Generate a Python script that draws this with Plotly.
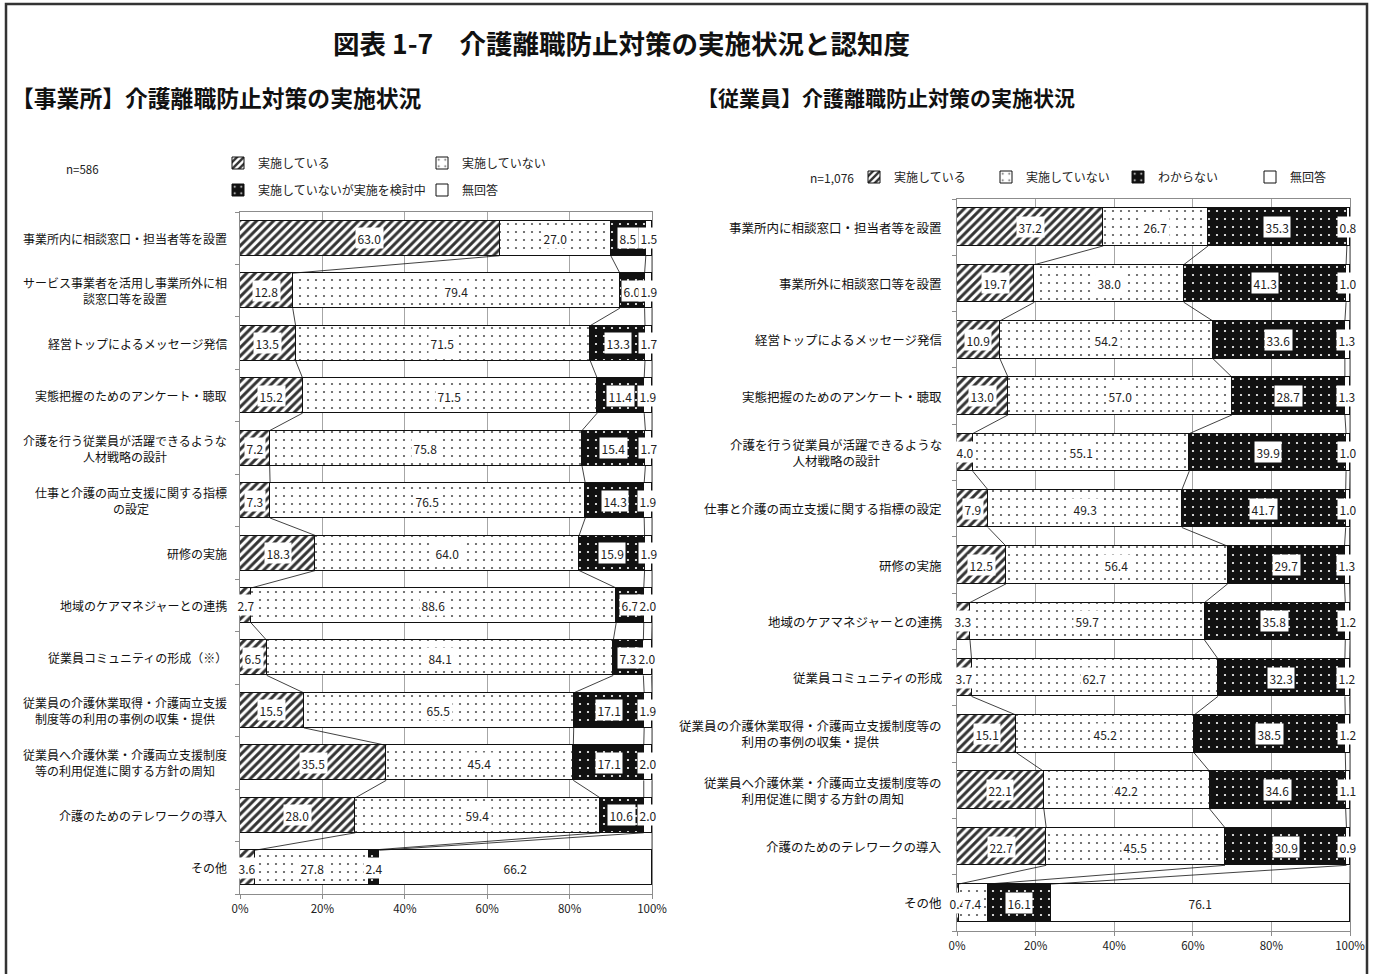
import plotly.graph_objects as go

W, H = 1379, 974
JP = "Noto Sans CJK JP"

# ---- data -------------------------------------------------------------
office_items = [
    "事業所内に相談窓口・担当者等を設置",
    "サービス事業者を活用し事業所外に相<br>談窓口等を設置",
    "経営トップによるメッセージ発信",
    "実態把握のためのアンケート・聴取",
    "介護を行う従業員が活躍できるような<br>人材戦略の設計",
    "仕事と介護の両立支援に関する指標<br>の設定",
    "研修の実施",
    "地域のケアマネジャーとの連携",
    "従業員コミュニティの形成（※）",
    "従業員の介護休業取得・介護両立支援<br>制度等の利用の事例の収集・提供",
    "従業員へ介護休業・介護両立支援制度<br>等の利用促進に関する方針の周知",
    "介護のためのテレワークの導入",
    "その他",
]
office_implemented = [63.0, 12.8, 13.5, 15.2, 7.2, 7.3, 18.3, 2.7, 6.5, 15.5, 35.5, 28.0, 3.6]
office_not_implemented = [27.0, 79.4, 71.5, 71.5, 75.8, 76.5, 64.0, 88.6, 84.1, 65.5, 45.4, 59.4, 27.8]
office_considering = [8.5, 6.0, 13.3, 11.4, 15.4, 14.3, 15.9, 6.7, 7.3, 17.1, 17.1, 10.6, 2.4]
office_no_answer = [1.5, 1.9, 1.7, 1.9, 1.7, 1.9, 1.9, 2.0, 2.0, 1.9, 2.0, 2.0, 66.2]

staff_items = [
    "事業所内に相談窓口・担当者等を設置",
    "事業所外に相談窓口等を設置",
    "経営トップによるメッセージ発信",
    "実態把握のためのアンケート・聴取",
    "介護を行う従業員が活躍できるような<br>人材戦略の設計",
    "仕事と介護の両立支援に関する指標の設定",
    "研修の実施",
    "地域のケアマネジャーとの連携",
    "従業員コミュニティの形成",
    "従業員の介護休業取得・介護両立支援制度等の<br>利用の事例の収集・提供",
    "従業員へ介護休業・介護両立支援制度等の<br>利用促進に関する方針の周知",
    "介護のためのテレワークの導入",
    "その他",
]
staff_implemented = [37.2, 19.7, 10.9, 13.0, 4.0, 7.9, 12.5, 3.3, 3.7, 15.1, 22.1, 22.7, 0.4]
staff_not_implemented = [26.7, 38.0, 54.2, 57.0, 55.1, 49.3, 56.4, 59.7, 62.7, 45.2, 42.2, 45.5, 7.4]
staff_unknown = [35.3, 41.3, 33.6, 28.7, 39.9, 41.7, 29.7, 35.8, 32.3, 38.5, 34.6, 30.9, 16.1]
staff_no_answer = [0.8, 1.0, 1.3, 1.3, 1.0, 1.0, 1.3, 1.2, 1.2, 1.2, 1.1, 0.9, 76.1]

x_ticks = [0, 20, 40, 60, 80, 100]
x_ticktext = ["0%", "20%", "40%", "60%", "80%", "100%"]

# ---- styles -----------------------------------------------------------
BAR_W = 0.667
OUTLINE = dict(color="#111111", width=1)
PAT_HATCH = dict(shape="/", fgcolor="#333333", bgcolor="#ffffff", size=6, solidity=0.5, fillmode="replace")
PAT_SPARSE = dict(shape=".", fgcolor="#555555", bgcolor="#ffffff", size=8, solidity=0.06, fillmode="replace")
PAT_DARK = dict(shape=".", fgcolor="#ffffff", bgcolor="#111111", size=8, solidity=0.06, fillmode="replace")
PAT_NONE = dict(shape="", fgcolor="#ffffff", bgcolor="#ffffff", fillmode="replace")


def px_x(px):
    return px / W


def px_y(py):
    return 1 - py / H


fig = go.Figure()


def add_panel(items, series, xa, ya, legends):
    n = len(items)
    rows = list(range(n))
    for (name, vals, pattern), lg in zip(series, legends):
        fig.add_trace(go.Bar(
            x=vals, y=rows, orientation="h", name=name, width=BAR_W,
            marker=dict(color="#ffffff", line=OUTLINE, pattern=pattern),
            xaxis=xa, yaxis=ya, legend=lg, hoverinfo="skip",
        ))
    # cumulative segment ends per row
    cums = []
    for i in rows:
        c, ends = 0.0, []
        for _, vals, _ in series:
            c += vals[i]
            ends.append(c)
        cums.append(ends)
    # connector lines between neighbouring bars
    lx, ly = [], []
    for k in range(len(series)):
        for i in range(n - 1):
            lx += [min(cums[i][k], 100), min(cums[i + 1][k], 100), None]
            ly += [i + BAR_W / 2, i + 1 - BAR_W / 2, None]
    fig.add_trace(go.Scatter(x=lx, y=ly, mode="lines", line=dict(color="#111111", width=0.8),
                             xaxis=xa, yaxis=ya, showlegend=False, hoverinfo="skip"))
    # value labels
    anns = []
    for i in rows:
        start = 0.0
        for _, vals, _ in series:
            v = vals[i]
            anns.append(dict(x=start + v / 2, y=i, xref=xa, yref=ya, text=f"{v:.1f}",
                             showarrow=False, bgcolor="#ffffff", borderpad=1.5,
                             font=dict(family=JP, size=12, color="#222222")))
            start += v
    return anns


left_series = [
    ("実施している", office_implemented, PAT_HATCH),
    ("実施していない", office_not_implemented, PAT_SPARSE),
    ("実施していないが実施を検討中", office_considering, PAT_DARK),
    ("無回答", office_no_answer, PAT_NONE),
]
right_series = [
    ("実施している", staff_implemented, PAT_HATCH),
    ("実施していない", staff_not_implemented, PAT_SPARSE),
    ("わからない", staff_unknown, PAT_DARK),
    ("無回答", staff_no_answer, PAT_NONE),
]

annotations = []
annotations += add_panel(office_items, left_series, "x", "y", ["legend", "legend", "legend2", "legend2"])
annotations += add_panel(staff_items, right_series, "x2", "y2", ["legend3"] * 4)

# category labels
for i, t in enumerate(office_items):
    annotations.append(dict(x=0, y=i, xref="x domain", yref="y", text=t, showarrow=False,
                            xanchor="right", xshift=-11, align="center",
                            font=dict(family=JP, size=12, color="#111111")))
for i, t in enumerate(staff_items):
    annotations.append(dict(x=0, y=i, xref="x2 domain", yref="y2", text=t, showarrow=False,
                            xanchor="right", xshift=-13, align="center",
                            font=dict(family=JP, size=12.5, color="#111111")))

# headings and sample sizes
annotations += [
    dict(x=px_x(621), y=px_y(42), xref="paper", yref="paper", showarrow=False,
         text="図表 1-7　介護離職防止対策の実施状況と認知度", xanchor="center", yanchor="middle",
         font=dict(family=JP, size=26.5, color="#111111", weight="bold")),
    dict(x=px_x(9), y=px_y(97), xref="paper", yref="paper", showarrow=False,
         text="【事業所】介護離職防止対策の実施状況", xanchor="left", yanchor="middle",
         font=dict(family=JP, size=22.8, color="#111111", weight="bold")),
    dict(x=px_x(695), y=px_y(97), xref="paper", yref="paper", showarrow=False,
         text="【従業員】介護離職防止対策の実施状況", xanchor="left", yanchor="middle",
         font=dict(family=JP, size=21, color="#111111", weight="bold")),
    dict(x=px_x(64), y=px_y(169), xref="paper", yref="paper", showarrow=False,
         text="n=586", xanchor="left", yanchor="middle",
         font=dict(family=JP, size=11.5, color="#222222")),
    dict(x=px_x(808), y=px_y(177), xref="paper", yref="paper", showarrow=False,
         text="n=1,076", xanchor="left", yanchor="middle",
         font=dict(family=JP, size=12, color="#222222")),
]

axis_common = dict(showline=True, linecolor="#8c8c8c", linewidth=1, mirror=True)
xaxis_common = dict(axis_common, range=[0, 100], tickvals=x_ticks, ticktext=x_ticktext,
                    showgrid=True, gridcolor="#a6a6a6", gridwidth=1, zeroline=False,
                    ticks="outside", ticklen=4, tickcolor="#8c8c8c",
                    tickfont=dict(family=JP, size=11.5, color="#222222"), fixedrange=True)
yaxis_common = dict(axis_common, range=[12.5, -0.5], tickvals=[i - 0.5 for i in range(14)],
                    showticklabels=False, ticks="outside", ticklen=4, tickcolor="#8c8c8c",
                    showgrid=False, zeroline=False, fixedrange=True)

legend_font = dict(family=JP, size=12, color="#222222")
legend_common = dict(orientation="h", xanchor="left", yanchor="middle", entrywidthmode="pixels",
                     font=legend_font, itemwidth=30, bgcolor="rgba(0,0,0,0)",
                     traceorder="normal", itemclick=False)
fig.update_layout(
    width=W, height=H, margin=dict(l=0, r=0, t=0, b=0, pad=0, autoexpand=False),
    paper_bgcolor="#ffffff", plot_bgcolor="#ffffff",
    barmode="stack", bargap=0,
    xaxis=dict(xaxis_common, domain=[px_x(240), px_x(652)], anchor="y"),
    yaxis=dict(yaxis_common, domain=[px_y(894), px_y(212)], anchor="x"),
    xaxis2=dict(xaxis_common, domain=[px_x(957), px_x(1350)], anchor="y2"),
    yaxis2=dict(yaxis_common, domain=[px_y(931), px_y(199)], anchor="x2"),
    legend=dict(legend_common, x=px_x(218), y=px_y(163), entrywidth=159),
    legend2=dict(legend_common, x=px_x(218), y=px_y(190), entrywidth=159),
    legend3=dict(legend_common, x=px_x(854), y=px_y(177), entrywidth=87),
    annotations=annotations,
    shapes=[dict(type="rect", xref="paper", yref="paper", x0=px_x(6), x1=px_x(1367),
                 y0=-0.02, y1=px_y(4), line=dict(color="#333333", width=2.5))],
    showlegend=True,
)

fig.write_html("out.html")
